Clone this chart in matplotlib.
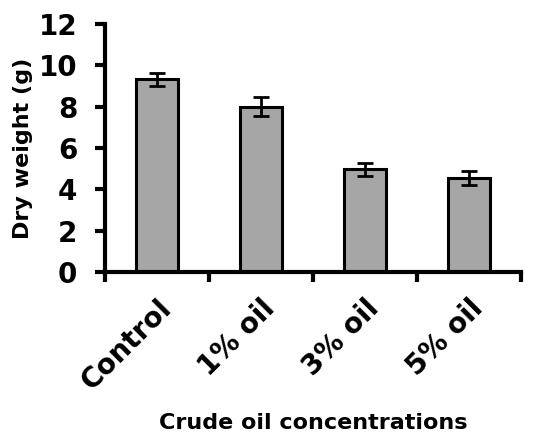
import matplotlib
matplotlib.use("Agg")
import matplotlib.pyplot as plt
import numpy as np

categories = ["Control", "1% oil", "3% oil", "5% oil"]
dry_weight = [9.32, 8.0, 4.97, 4.56]
errors = [0.32, 0.45, 0.32, 0.34]
yticks = [0, 2, 4, 6, 8, 10, 12]

plt.rcParams["font.family"] = ["DejaVu Sans"]
plt.rcParams["font.weight"] = "bold"

fig = plt.figure(figsize=(5.36, 4.33), dpi=100)
ax = fig.add_axes([105 / 536, 1 - 272 / 433, 416 / 536, 248 / 433])

x = np.arange(len(categories))
ax.bar(x, dry_weight, width=0.4, color="#a6a6a6", edgecolor="black", linewidth=2.2, zorder=2)
ax.errorbar(x, dry_weight, yerr=errors, fmt="none", ecolor="black", elinewidth=2,
            capsize=5.5, capthick=2, zorder=3)

ax.set_xlim(-0.5, len(categories) - 0.5)
ax.set_ylim(0, 12)
ax.set_yticks(yticks)
ax.set_yticklabels([str(t) for t in yticks], fontsize=20, fontweight="bold")

# ticks on the category boundaries, labels under the bars
ax.set_xticks(np.arange(len(categories) + 1) - 0.5)
ax.set_xticklabels([])
ax.set_xticks(x, minor=True)
ax.set_xticklabels(categories, minor=True, rotation=45, ha="right", rotation_mode="anchor",
                   fontsize=20, fontweight="bold")
ax.tick_params(axis="x", which="minor", length=0, pad=16)
ax.tick_params(axis="x", which="major", length=7, width=3, direction="out")
ax.tick_params(axis="y", length=7, width=3, direction="out", pad=13)

for s in ["top", "right"]:
    ax.spines[s].set_visible(False)
for s in ["left", "bottom"]:
    ax.spines[s].set_linewidth(3)

ax.set_ylabel("Dry weight (g)", fontsize=16, fontweight="bold", labelpad=4)
ax.set_xlabel("Crude oil concentrations", fontsize=16, fontweight="bold", labelpad=13)

fig.savefig("out.png", dpi=100)
